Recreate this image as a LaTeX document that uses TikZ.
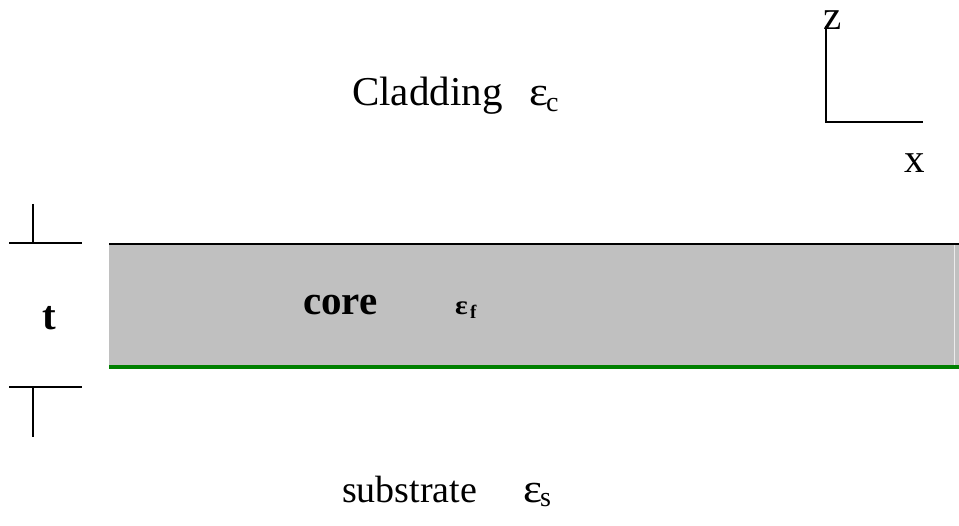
\documentclass[tikz,border=0pt]{standalone}
\usepackage{fontspec}
\setmainfont{Liberation Serif}
\definecolor{coregray}{RGB}{192,192,192}
\definecolor{edgegreen}{RGB}{0,128,0}
\begin{document}
\begin{tikzpicture}[x=1pt,y=-1pt,
  txt/.style={inner sep=0pt,anchor=base west},
  big/.style={txt,font=\fontsize{41}{43}\selectfont},
  bigb/.style={txt,font=\fontsize{41}{43}\selectfont\bfseries},
  subsc/.style={txt,font=\fontsize{28}{30}\selectfont},
  tick/.style={line width=1.3pt,black}]
\useasboundingbox (0,0) rectangle (959,526);
% core layer
\fill[coregray] (109,244) rectangle (959,367);
\draw[white!85!gray,line width=1pt] (954.5,245) -- (954.5,365);
\coordinate (ctl) at (109,244);
\coordinate (ctr) at (959,244);
\coordinate (cbl) at (109,367);
\coordinate (cbr) at (959,367);
\draw[line width=2pt,black] (ctl) -- (ctr);
\draw[line width=4pt,edgegreen] (cbl) -- (cbr);
% thickness marker
\coordinate (tt1) at (33,204);
\coordinate (tt2) at (33,243);
\coordinate (th1l) at (9,243);
\coordinate (th1r) at (82,243);
\coordinate (tb1l) at (9,387);
\coordinate (tb1r) at (82,387);
\coordinate (tb1) at (33,387);
\coordinate (tb2) at (33,437);
\draw[tick] (tt1) -- (tt2);
\draw[tick] (th1l) -- (th1r);
\draw[tick] (tb1l) -- (tb1r);
\draw[tick] (tb1) -- (tb2);
\node[bigb] (t) at (42,330) {t};
% axes
\coordinate (ao) at (826,122);
\coordinate (az) at (826,26);
\coordinate (ax) at (923,122);
\draw[tick] (az) -- (ao) -- (ax);
\node[big] (zl) at (823,30) {z};
\node[big] (xl) at (904,173) {x};
% cladding
\node[big] (clad) at (352,106) {Cladding};
\node[big] (epsc) at (529,106) {\scalebox{1.1}[1]{ε}};
\node[subsc] (subc) at (546,112) {c};
% core
\node[bigb] (core) at (303,315) {core};
\node[txt,font=\fontsize{27}{29}\selectfont\bfseries] (epsf) at (455,315) {\scalebox{1.1}[1]{ε}};
\node[txt,font=\fontsize{19}{21}\selectfont\bfseries] (subf) at (470,319) {f};
% substrate
\node[txt,font=\fontsize{38}{40}\selectfont] (sub) at (342,503) {substrate};
\node[big] (epss) at (523,503) {\scalebox{1.1}[1]{ε}};
\node[subsc] (subs) at (540,507) {s};
\end{tikzpicture}
\end{document}
